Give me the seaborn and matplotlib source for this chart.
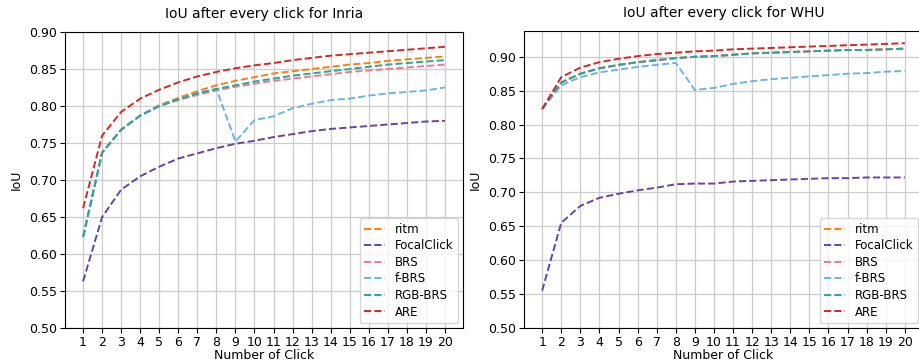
import numpy as np
import pandas as pd
import matplotlib
matplotlib.use('agg')
import matplotlib.pyplot as plt
import seaborn as sns

clicks = list(range(1, 21))
methods = ['ritm', 'FocalClick', 'BRS', 'f-BRS', 'RGB-BRS', 'ARE']
colors = ['#ff7f0e', '#6444a4', '#ef7b8e', '#6cb4e4', '#2aa59a', '#d62728']

# Inria
inria_ritm = [0.623, 0.737, 0.768, 0.787, 0.801, 0.811, 0.820, 0.828, 0.834, 0.839,
              0.844, 0.847, 0.850, 0.853, 0.856, 0.858, 0.861, 0.863, 0.865, 0.867]
inria_focal = [0.563, 0.650, 0.687, 0.705, 0.718, 0.729, 0.736, 0.743, 0.749, 0.753,
               0.758, 0.762, 0.766, 0.769, 0.771, 0.773, 0.775, 0.777, 0.779, 0.780]
inria_brs = [0.623, 0.737, 0.768, 0.787, 0.800, 0.808, 0.815, 0.821, 0.826, 0.830,
             0.834, 0.837, 0.840, 0.843, 0.846, 0.848, 0.850, 0.852, 0.854, 0.856]
inria_fbrs = [0.623, 0.737, 0.768, 0.787, 0.800, 0.809, 0.817, 0.823, 0.752, 0.781,
              0.786, 0.797, 0.803, 0.808, 0.810, 0.814, 0.817, 0.819, 0.821, 0.825]
inria_rgbbrs = [0.623, 0.737, 0.768, 0.787, 0.800, 0.809, 0.817, 0.823, 0.828, 0.833,
                0.837, 0.841, 0.844, 0.847, 0.850, 0.853, 0.856, 0.858, 0.860, 0.862]
inria_are = [0.662, 0.760, 0.792, 0.810, 0.822, 0.832, 0.840, 0.846, 0.851, 0.855,
             0.858, 0.862, 0.865, 0.868, 0.870, 0.872, 0.874, 0.876, 0.878, 0.880]

# WHU
whu_ritm = [0.823, 0.862, 0.875, 0.883, 0.888, 0.892, 0.895, 0.898, 0.900, 0.901,
            0.903, 0.905, 0.906, 0.907, 0.908, 0.909, 0.910, 0.910, 0.911, 0.912]
whu_focal = [0.555, 0.655, 0.680, 0.692, 0.698, 0.703, 0.707, 0.712, 0.713, 0.713,
             0.716, 0.717, 0.718, 0.719, 0.720, 0.721, 0.721, 0.722, 0.722, 0.722]
whu_brs = [0.823, 0.862, 0.875, 0.883, 0.888, 0.892, 0.895, 0.898, 0.900, 0.901,
           0.903, 0.905, 0.906, 0.907, 0.908, 0.909, 0.910, 0.910, 0.911, 0.912]
whu_fbrs = [0.823, 0.858, 0.870, 0.877, 0.881, 0.885, 0.888, 0.891, 0.851, 0.854,
            0.860, 0.864, 0.867, 0.869, 0.871, 0.873, 0.875, 0.876, 0.878, 0.879]
whu_rgbbrs = [0.823, 0.862, 0.875, 0.883, 0.888, 0.892, 0.895, 0.898, 0.900, 0.901,
              0.903, 0.905, 0.906, 0.907, 0.908, 0.909, 0.910, 0.910, 0.911, 0.912]
whu_are = [0.823, 0.870, 0.884, 0.892, 0.897, 0.901, 0.904, 0.906, 0.908, 0.909,
           0.911, 0.912, 0.913, 0.914, 0.915, 0.916, 0.917, 0.918, 0.919, 0.920]


def long_form(series):
    rows = []
    for name, vals in zip(methods, series):
        for c, v in zip(clicks, vals):
            rows.append({'click': c, 'IoU': v, 'method': name})
    return pd.DataFrame(rows)


inria = long_form([inria_ritm, inria_focal, inria_brs, inria_fbrs, inria_rgbbrs, inria_are])
whu = long_form([whu_ritm, whu_focal, whu_brs, whu_fbrs, whu_rgbbrs, whu_are])

fig = plt.figure(figsize=(9.2, 3.62), dpi=100)
ax1 = fig.add_axes([65 / 920, 34 / 362, 398 / 920, 296 / 362])
ax2 = fig.add_axes([524 / 920, 34 / 362, 399 / 920, 297 / 362])

palette = dict(zip(methods, colors))
for ax, df, title, ylim in [(ax1, inria, 'IoU after every click for Inria', (0.5, 0.9)),
                            (ax2, whu, 'IoU after every click for WHU', (0.5, 0.938))]:
    sns.lineplot(data=df, x='click', y='IoU', hue='method', hue_order=methods,
                 palette=palette, ax=ax, linestyle='--', linewidth=1.4)
    ax.set_xticks(clicks)
    ax.set_ylim(*ylim)
    ax.set_yticks(np.arange(0.5, 0.9001, 0.05))
    ax.grid(True, color='#cccccc', linewidth=0.9)
    ax.set_axisbelow(True)
    ax.set_title(title, fontsize=10, pad=10)
    ax.set_xlabel('Number of Click', fontsize=9, labelpad=0)
    ax.set_ylabel('IoU', fontsize=9)
    ax.tick_params(labelsize=9, pad=2.5)
    for line in ax.get_lines():
        line.set_linestyle('--')
    leg = ax.legend(loc='lower right', fontsize=8.5, title=None,
                    labelspacing=0.3, handlelength=1.8, borderaxespad=0.4)
    for h in leg.get_lines():
        h.set_linestyle('--')

fig.savefig('out.png', dpi=100)
